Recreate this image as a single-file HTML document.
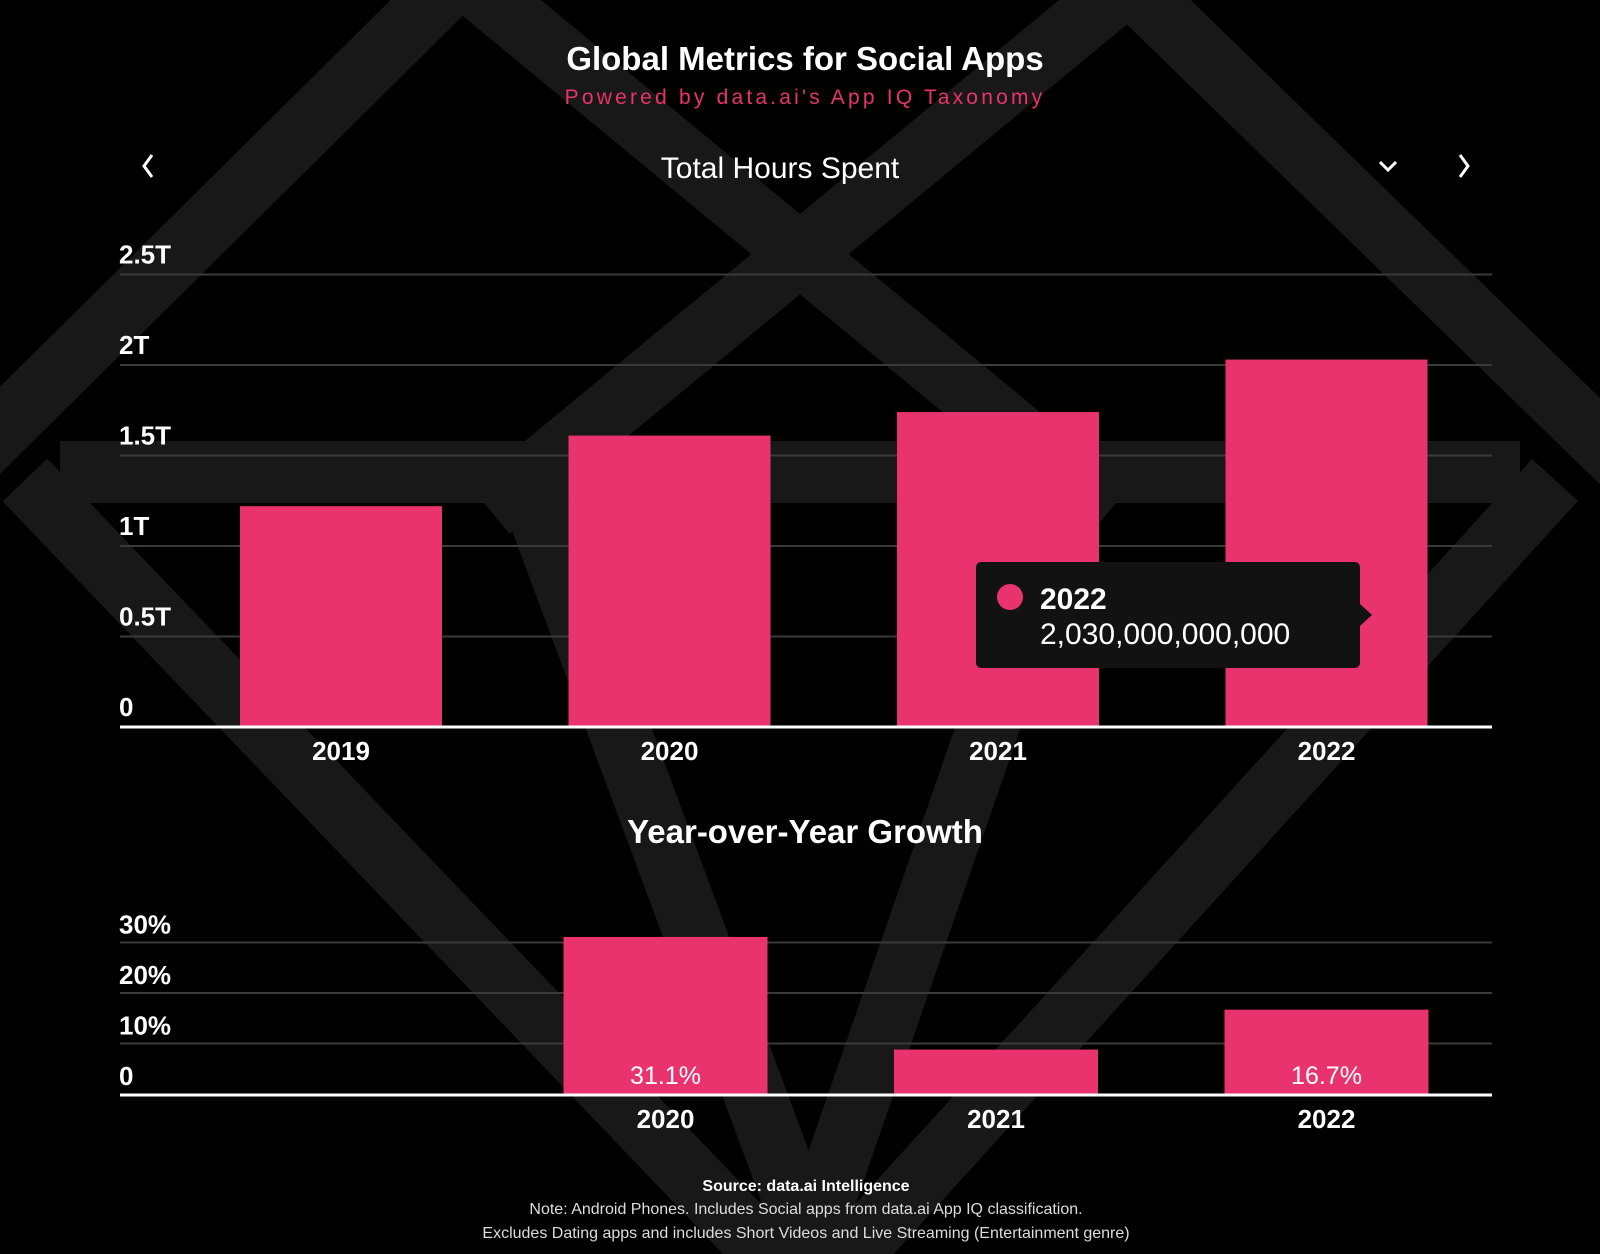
<!DOCTYPE html>
<html><head><meta charset="utf-8"><style>
html,body{margin:0;padding:0;background:#000;}
body{width:1600px;height:1254px;overflow:hidden;position:relative;font-family:"Liberation Sans",sans-serif;color:#fff;}
svg{position:absolute;left:0;top:0;}
</style></head><body>
<svg id="bg" width="1600" height="1254">
<g stroke="#181818" stroke-width="62" fill="none" stroke-linecap="butt">
<line x1="-40" y1="470" x2="475" y2="-40"/>
<line x1="1105" y1="-40" x2="1640" y2="480"/>
<line x1="60" y1="472" x2="1520" y2="472"/>
<line x1="480" y1="-10" x2="1110" y2="510"/>
<line x1="1120" y1="-10" x2="490" y2="510"/>
<line x1="25" y1="480" x2="810" y2="1300"/>
<line x1="1555" y1="480" x2="810" y2="1300"/>
<line x1="530" y1="490" x2="820" y2="1270"/>
<line x1="1070" y1="490" x2="800" y2="1270"/>
</g>
</svg>
<svg id="chart" width="1600" height="1254">
<text x="805" y="70" text-anchor="middle" font-size="33" font-weight="bold" fill="#fff">Global Metrics for Social Apps</text>
<text x="805" y="104" text-anchor="middle" font-size="21" fill="#e9336e" letter-spacing="3.2">Powered by data.ai's App IQ Taxonomy</text>
<text x="780" y="178" text-anchor="middle" font-size="30" fill="#fff">Total Hours Spent</text>
<path d="M152 155 L144 166 L152 177" stroke="#fff" stroke-width="3" fill="none"/>
<path d="M1380 162 L1388 170 L1396 162" stroke="#fff" stroke-width="3" fill="none"/>
<path d="M1460 155 L1468 166 L1460 177" stroke="#fff" stroke-width="3" fill="none"/>
<g id="top"></g>
<text x="805" y="843" text-anchor="middle" font-size="33" font-weight="bold" fill="#fff">Year-over-Year Growth</text>
<g id="bot"></g>
<g id="tip">
<rect x="976" y="562" width="384" height="106" rx="5" fill="#121212"/>
<path d="M1360 604 L1372 615 L1360 626 Z" fill="#121212"/>
<circle cx="1010" cy="597" r="13" fill="#e9336e"/>
<text x="1040" y="609" font-size="30" font-weight="bold" fill="#fff">2022</text>
<text x="1040" y="644" font-size="30" fill="#fff">2,030,000,000,000</text>
</g>
<text x="806" y="1191" text-anchor="middle" font-size="16" font-weight="bold" fill="#fff">Source: data.ai Intelligence</text>
<text x="806" y="1214" text-anchor="middle" font-size="16" fill="#ddd">Note: Android Phones. Includes Social apps from data.ai App IQ classification.</text>
<text x="806" y="1238" text-anchor="middle" font-size="16" fill="#ddd">Excludes Dating apps and includes Short Videos and Live Streaming (Entertainment genre)</text>
</svg>
<script>
const topCats=["2019","2020","2021","2022"];
const topVals=[1.22,1.61,1.74,2.03];
const topTicks=[0,0.5,1,1.5,2,2.5];
const topTickLabels=["0","0.5T","1T","1.5T","2T","2.5T"];
const botCats=["2019","2020","2021","2022"];
const botVals=[null,31.1,8.8,16.7];
const botLabels=["","31.1%","","16.7%"];
const botTicks=[0,10,20,30];
const botTickLabels=["0","10%","20%","30%"];
const NS="http://www.w3.org/2000/svg";
function mk(p,t,a){const e=document.createElementNS(NS,t);for(const k in a)e.setAttribute(k,a[k]);p.appendChild(e);return e;}
const tg=document.getElementById('top');
const ty=v=>727-v*181;
const tx=i=>176+i*328.5;
topTicks.forEach((t,i)=>{
 if(i>0){const l=mk(tg,'line',{x1:120,x2:1492,y1:ty(t),y2:ty(t),stroke:'#3a3a3a','stroke-width':2});
 
 }
 const tx_=mk(tg,'text',{x:119,y:ty(t)-11,'font-size':26,'font-weight':'bold',fill:'#fff'});tx_.textContent=topTickLabels[i];
 
 
});
topVals.forEach((v,i)=>{
 const r=mk(tg,'rect',{x:tx(i)+64,y:ty(v),width:202,height:ty(0)-ty(v),fill:'#e9336e'});
 
 
 const t=mk(tg,'text',{x:tx(i)+165,y:760,'text-anchor':'middle','font-size':26,'font-weight':'bold',fill:'#fff'});t.textContent=topCats[i];
 
 
});
const ta=mk(tg,'line',{x1:120,x2:1492,y1:727,y2:727,stroke:'#fff','stroke-width':3});


const bg=document.getElementById('bot');
const by=v=>1094-v*5.05;
const bx=i=>176+i*330.5;
botTicks.forEach((t,i)=>{
 if(i>0){const l=mk(bg,'line',{x1:120,x2:1492,y1:by(t),y2:by(t),stroke:'#3a3a3a','stroke-width':2});
 
 }
 const tx_=mk(bg,'text',{x:119,y:by(t)-9,'font-size':26,'font-weight':'bold',fill:'#fff'});tx_.textContent=botTickLabels[i];
 
 
});
botVals.forEach((v,i)=>{
 if(v===null)return;
 const r=mk(bg,'rect',{x:bx(i)+57,y:by(v),width:204,height:by(0)-by(v),fill:'#e9336e'});
 
 
 if(botLabels[i]){const l=mk(bg,'text',{x:bx(i)+159,y:1084,'text-anchor':'middle','font-size':25,fill:'#fff'});l.textContent=botLabels[i];
 
 }
 const t=mk(bg,'text',{x:bx(i)+159,y:1128,'text-anchor':'middle','font-size':26,'font-weight':'bold',fill:'#fff'});t.textContent=botCats[i];
 
 
});
const ba=mk(bg,'line',{x1:120,x2:1492,y1:1095,y2:1095,stroke:'#fff','stroke-width':3});


</script>
</body></html>
